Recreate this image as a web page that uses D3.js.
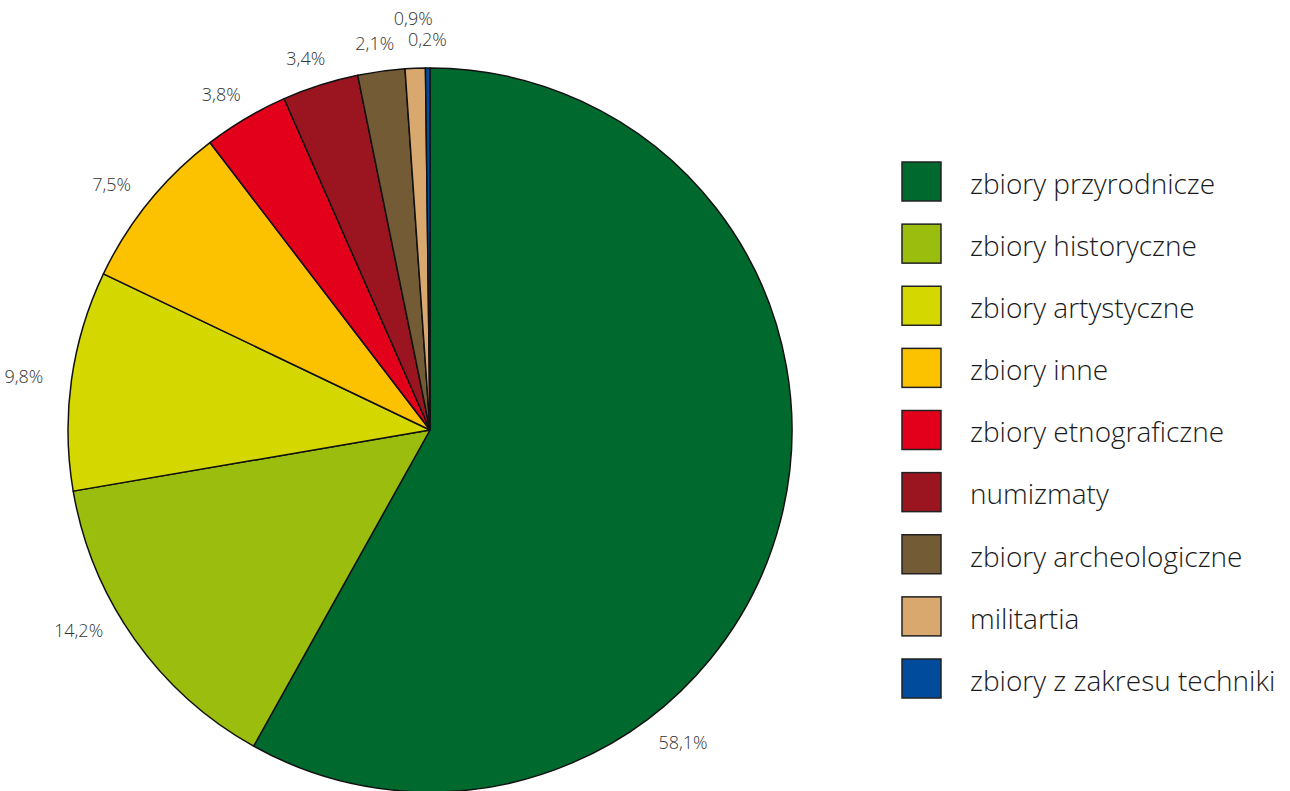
<!DOCTYPE html>
<html>
<head>
<meta charset="utf-8">
<script src="https://cdn.jsdelivr.net/npm/d3@7"></script>
<style>
  body { margin: 0; background: #fff; }
  svg { display: block; font-family: 'Open Sans', 'Noto Sans', sans-serif; }
</style>
</head>
<body>
<div id="chart"></div>
<script>
var categories = [
  'zbiory przyrodnicze',
  'zbiory historyczne',
  'zbiory artystyczne',
  'zbiory inne',
  'zbiory etnograficzne',
  'numizmaty',
  'zbiory archeologiczne',
  'militartia',
  'zbiory z zakresu techniki'
]
var shares = [58.1, 14.2, 9.8, 7.5, 3.8, 3.4, 2.1, 0.9, 0.2]
var colors = ['#006a2e', '#9bbe0e', '#d4d800', '#fcc200', '#e2001a', '#9b1520', '#735b35', '#d9a86f', '#004b9b']

var width = 1290
var height = 791
var cx = 430, cy = 430, r = 362

var svg = d3.select('#chart').append('svg')
  .attr('width', width)
  .attr('height', height)

var pie = d3.pie().sort(null).value(d => d)
var arcs = pie(shares)
var arc = d3.arc().innerRadius(0).outerRadius(r)

var g = svg.append('g').attr('transform', `translate(${cx},${cy})`)

g.selectAll('path')
  .data(arcs)
  .join('path')
  .attr('d', arc)
  .attr('fill', (d, i) => colors[i])
  .attr('stroke', '#111')
  .attr('stroke-width', 1.5)
  .attr('stroke-linejoin', 'round')

// label placement: mid-angle outside the rim, a few labels moved like in the original
var deg = Math.PI / 180
var labelAngle = {0: 141 * deg, 1: 239 * deg}
var labelLift = {7: 22}
var fmt = v => d3.format('.1f')(v).replace('.', ',') + '%'

g.selectAll('text.lbl')
  .data(arcs)
  .join('text')
  .attr('class', 'lbl')
  .each(function(d, i) {
    var a = labelAngle[i] != null ? labelAngle[i] : (d.startAngle + d.endAngle) / 2
    var rr = i === 0 ? r + 40 : r + 28
    var s = Math.sin(a)
    var x = rr * s + (i === 0 ? 0 : s * 20)
    var y = -rr * Math.cos(a) - (labelLift[i] || 0)
    d3.select(this)
      .attr('x', x)
      .attr('y', y)
      .attr('text-anchor', 'middle')
      .attr('dy', '0.35em')
  })
  .attr('font-size', 18)
  .attr('font-weight', 300)
  .attr('fill', '#333')
  .text(d => fmt(d.data))

// legend
var legendY = d3.scalePoint().domain(categories).range([162, 659])

var leg = svg.append('g')
  .selectAll('g')
  .data(categories)
  .join('g')
  .attr('transform', d => `translate(902,${legendY(d)})`)

leg.append('rect')
  .attr('width', 39)
  .attr('height', 39)
  .attr('fill', (d, i) => colors[i])
  .attr('stroke', '#222')
  .attr('stroke-width', 1.5)

leg.append('text')
  .attr('x', 68)
  .attr('y', 22)
  .attr('dy', '0.35em')
  .attr('font-size', 28)
  .attr('font-weight', 300)
  .attr('fill', '#1a1a1a')
  .text(d => d)
</script>
</body>
</html>
